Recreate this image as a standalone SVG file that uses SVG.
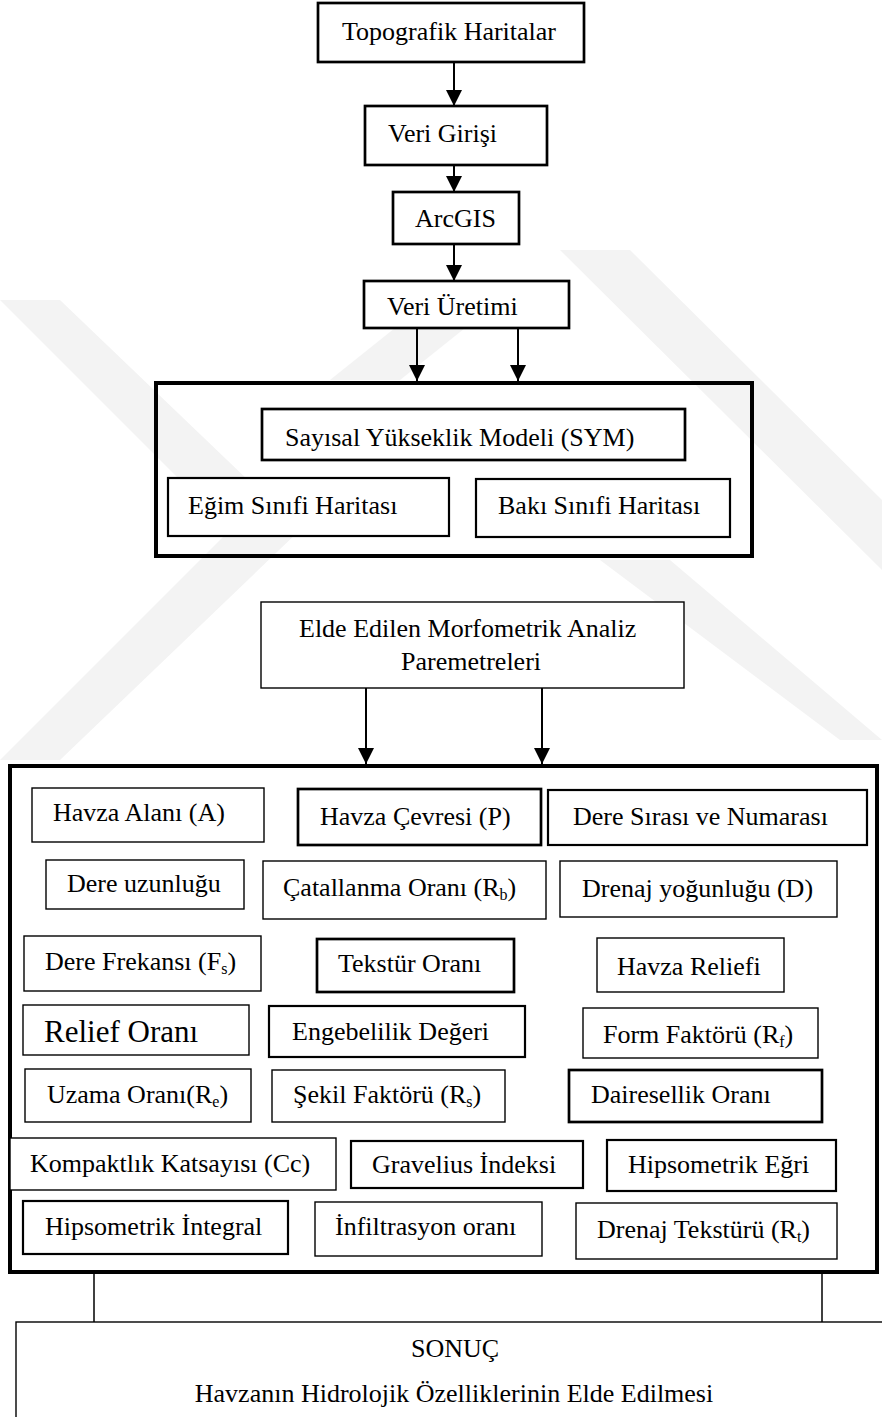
<svg xmlns="http://www.w3.org/2000/svg" width="882" height="1417" viewBox="0 0 882 1417">
<defs>
<style>
.t{font-family:"Liberation Serif","Times New Roman",serif;font-size:26px;fill:#000}
.b1{fill:#fff;stroke:#000;stroke-width:1.4}
.b2{fill:#fff;stroke:#000;stroke-width:2.2}
.b3{fill:#fff;stroke:#000;stroke-width:2.7}
.big{fill:none;stroke:#000;stroke-width:4}
.c{stroke:#000;stroke-width:2;fill:none}
.c1{stroke:#000;stroke-width:1.5;fill:none}
.wm{fill:#f3f3f3}
.sub{font-size:16px}
</style>
<marker id="ah" markerUnits="userSpaceOnUse" markerWidth="16" markerHeight="16" refX="16" refY="8" orient="auto">
<path d="M0,0 L16,8 L0,16 Z" fill="#000"/>
</marker>
</defs>
<rect width="882" height="1417" fill="#fff"/>
<g id="watermark">
<polygon class="wm" points="0,300 60,300 300,530 60,760 0,760 230,530"/>
<polygon class="wm" points="560,250 630,250 882,500 882,570"/>
<polygon class="wm" points="600,560 670,560 882,740 840,740"/>
<polygon class="wm" points="330,380 400,380 500,300 430,300"/>
</g>
<g id="connectors">
<line class="c" x1="454" y1="62" x2="454" y2="106" marker-end="url(#ah)"/>
<line class="c" x1="454" y1="165" x2="454" y2="192" marker-end="url(#ah)"/>
<line class="c" x1="454" y1="244" x2="454" y2="281" marker-end="url(#ah)"/>
<line class="c" x1="417" y1="328" x2="417" y2="381" marker-end="url(#ah)"/>
<line class="c" x1="518" y1="328" x2="518" y2="381" marker-end="url(#ah)"/>
<line class="c" x1="366" y1="688" x2="366" y2="764" marker-end="url(#ah)"/>
<line class="c" x1="542" y1="688" x2="542" y2="764" marker-end="url(#ah)"/>
<line class="c1" x1="94" y1="1274" x2="94" y2="1322"/>
<line class="c1" x1="822" y1="1274" x2="822" y2="1322"/>
</g>
<g id="n-topo"><rect class="b3" x="318" y="3" width="266" height="59"/><text class="t" x="342" y="40">Topografik Haritalar</text></g>
<g id="n-veri-girisi"><rect class="b3" x="365" y="106" width="182" height="59"/><text class="t" x="388" y="142">Veri Girişi</text></g>
<g id="n-arcgis"><rect class="b3" x="393" y="192" width="126" height="52"/><text class="t" x="415" y="227">ArcGIS</text></g>
<g id="n-veri-uretimi"><rect class="b3" x="364" y="281" width="205" height="47"/><text class="t" x="387" y="315">Veri Üretimi</text></g>
<g id="g-uretim"><rect class="big" x="156" y="383" width="596" height="173"/></g>
<g id="n-sym"><rect class="b3" x="262" y="409" width="423" height="51"/><text class="t" x="285" y="446">Sayısal Yükseklik Modeli (SYM)</text></g>
<g id="n-egim"><rect class="b2" x="168" y="478" width="281" height="58"/><text class="t" x="188" y="514">Eğim Sınıfi Haritası</text></g>
<g id="n-baki"><rect class="b2" x="476" y="479" width="254" height="58"/><text class="t" x="498" y="514">Bakı Sınıfi Haritası</text></g>
<g id="n-elde"><rect class="b1" x="261" y="602" width="423" height="86"/><text class="t" x="299" y="637">Elde Edilen Morfometrik Analiz</text><text class="t" x="401" y="670">Paremetreleri</text></g>
<g id="g-parametreler"><rect class="big" x="10" y="766" width="867" height="506"/></g>
<g id="n-alan"><rect class="b1" x="32" y="788" width="232" height="54"/><text class="t" x="53" y="821">Havza Alanı (A)</text></g>
<g id="n-cevre"><rect class="b3" x="298" y="789" width="243" height="56"/><text class="t" x="320" y="825">Havza Çevresi (P)</text></g>
<g id="n-sira"><rect class="b2" x="548" y="790" width="319" height="55"/><text class="t" x="573" y="825">Dere Sırası ve Numarası</text></g>
<g id="n-uzunluk"><rect class="b1" x="46" y="860" width="198" height="49"/><text class="t" x="67" y="892">Dere uzunluğu</text></g>
<g id="n-catallanma"><rect class="b1" x="263" y="861" width="283" height="58"/><text class="t" x="283" y="896">Çatallanma Oranı (R<tspan class="sub" dy="4">b</tspan><tspan dy="-4">)</tspan></text></g>
<g id="n-yogunluk"><rect class="b1" x="560" y="861" width="277" height="56"/><text class="t" x="582" y="897">Drenaj yoğunluğu (D)</text></g>
<g id="n-frekans"><rect class="b1" x="24" y="936" width="237" height="55"/><text class="t" x="45" y="970">Dere Frekansı (F<tspan class="sub" dy="4">s</tspan><tspan dy="-4">)</tspan></text></g>
<g id="n-tekstur-orani"><rect class="b3" x="317" y="939" width="197" height="53"/><text class="t" x="338" y="972">Tekstür Oranı</text></g>
<g id="n-reliefi"><rect class="b1" x="597" y="938" width="187" height="54"/><text class="t" x="617" y="975">Havza Reliefi</text></g>
<g id="n-relief-orani"><rect class="b1" x="23" y="1005" width="226" height="50"/><text class="t" x="44" y="1042" style="font-size:31px">Relief Oranı</text></g>
<g id="n-engebelilik"><rect class="b2" x="269" y="1006" width="256" height="51"/><text class="t" x="292" y="1040">Engebelilik Değeri</text></g>
<g id="n-form"><rect class="b1" x="583" y="1008" width="235" height="50"/><text class="t" x="603" y="1043">Form Faktörü (R<tspan class="sub" dy="4">f</tspan><tspan dy="-4">)</tspan></text></g>
<g id="n-uzama"><rect class="b1" x="25" y="1069" width="226" height="53"/><text class="t" x="47" y="1103">Uzama Oranı(R<tspan class="sub" dy="4">e</tspan><tspan dy="-4">)</tspan></text></g>
<g id="n-sekil"><rect class="b1" x="272" y="1070" width="233" height="52"/><text class="t" x="293" y="1103">Şekil Faktörü (R<tspan class="sub" dy="4">s</tspan><tspan dy="-4">)</tspan></text></g>
<g id="n-daireselik"><rect class="b3" x="569" y="1070" width="253" height="52"/><text class="t" x="591" y="1103">Dairesellik Oranı</text></g>
<g id="n-kompaktlik"><rect class="b1" x="10" y="1138" width="326" height="52"/><text class="t" x="30" y="1172">Kompaktlık Katsayısı (Cc)</text></g>
<g id="n-gravelius"><rect class="b2" x="351" y="1141" width="232" height="47"/><text class="t" x="372" y="1173">Gravelius İndeksi</text></g>
<g id="n-hip-egri"><rect class="b2" x="607" y="1140" width="229" height="51"/><text class="t" x="628" y="1173">Hipsometrik Eğri</text></g>
<g id="n-hip-integral"><rect class="b2" x="23" y="1201" width="265" height="53"/><text class="t" x="45" y="1235">Hipsometrik İntegral</text></g>
<g id="n-infiltrasyon"><rect class="b1" x="315" y="1202" width="227" height="54"/><text class="t" x="335" y="1235">İnfiltrasyon oranı</text></g>
<g id="n-drenaj-tekstur"><rect class="b1" x="576" y="1203" width="261" height="56"/><text class="t" x="597" y="1238">Drenaj Tekstürü (R<tspan class="sub" dy="4">t</tspan><tspan dy="-4">)</tspan></text></g>
<g id="n-sonuc"><rect class="b1" x="16" y="1322" width="880" height="110"/><text class="t" x="455" y="1357" text-anchor="middle">SONUÇ</text><text class="t" x="454" y="1402" text-anchor="middle">Havzanın Hidrolojik Özelliklerinin Elde Edilmesi</text></g>
</svg>
